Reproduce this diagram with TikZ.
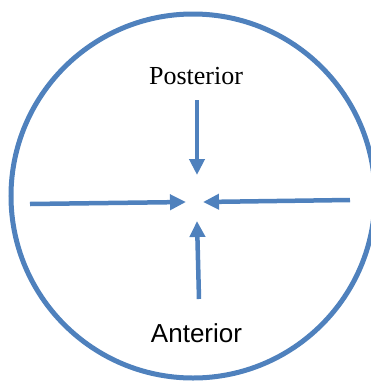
\documentclass[tikz,border=0pt]{standalone}
\usepackage{fontspec}
\setmainfont{Liberation Serif}
\newfontfamily\arialfont{Liberation Sans}
\usetikzlibrary{arrows.meta}
\definecolor{ringblue}{RGB}{79,129,189}
\begin{document}
\begin{tikzpicture}[x=1bp, y=-1bp,
  ring/.style={circle, draw=ringblue, line width=5bp, minimum size=364bp, inner sep=0pt},
  push/.style={draw=ringblue, line width=4.5bp, -{Triangle[width=15bp, length=16bp]}},
  lbl/.style={inner sep=0pt, anchor=base},
  serifl/.style={lbl, font=\fontsize{26bp}{30bp}\selectfont},
  sansl/.style={lbl, font=\arialfont\fontsize{26bp}{30bp}\selectfont},
]
\useasboundingbox (0,0) rectangle (371,381);
\node[ring] (ring) at (193,196) {};
\node[serifl] (post) at (196,84) {Posterior};
\node[sansl] (ant) at (196.5,342) {Anterior};
\coordinate (ptop) at (197,100);
\coordinate (ptip) at (197,175);
\coordinate (lend) at (30,204);
\coordinate (ltip) at (186,202);
\coordinate (rend) at (350,200);
\coordinate (rtip) at (203,202);
\coordinate (bend) at (199,299);
\coordinate (btip) at (197,221);
\draw[push] (ptop) -- (ptip);
\draw[push] (lend) -- (ltip);
\draw[push] (rend) -- (rtip);
\draw[push] (bend) -- (btip);
\end{tikzpicture}
\end{document}
